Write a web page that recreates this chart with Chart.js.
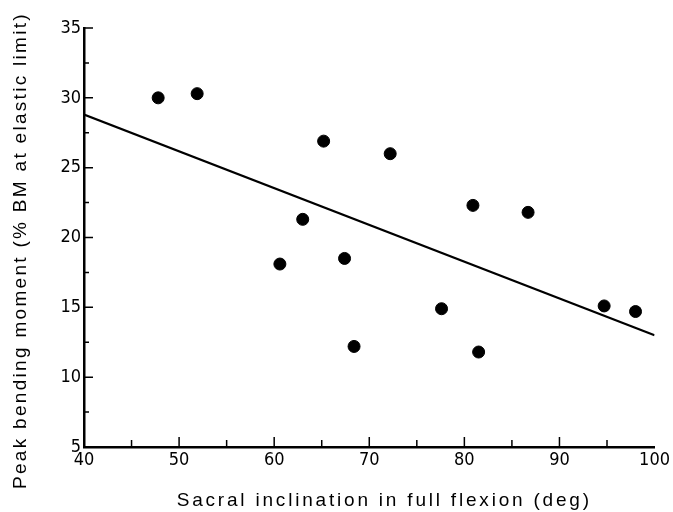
<!DOCTYPE html>
<html lang="en">
<head>
    <meta charset="UTF-8">
    <title>Peak bending moment vs sacral inclination</title>
    <script src="https://cdn.jsdelivr.net/npm/chart.js"></script>
    <style>
        body {
            margin: 0;
            padding: 0;
            background-color: #fff;
        }
        .wrap {
            width: 673px;
            height: 512px;
            position: relative;
        }
    </style>
</head>
<body>
    <div class="wrap">
        <canvas id="scatter-chart"></canvas>
    </div>

    <script>
        // sacral inclination (deg) and peak bending moment (% BM)
        var inclination = [47.8, 51.9, 65.2, 72.2, 63.0, 60.6, 67.4, 68.4, 77.6, 80.9, 81.5, 86.7, 94.7, 98.0];
        var moment = [30.0, 30.3, 26.9, 26.0, 21.3, 18.1, 18.5, 12.2, 14.9, 22.3, 11.8, 21.8, 15.1, 14.7];

        // regression line end points
        var fitX = [40, 100];
        var fitY = [28.8, 13.0];

        var xTicks = [40, 50, 60, 70, 80, 90, 100];
        var yTicks = [5, 10, 15, 20, 25, 30, 35];

        function toPoints(xs, ys) {
            return xs.map(function(x, i) { return {x: x, y: ys[i]}; });
        }

        // title spacing / nudge per axis (the printed titles are spaced out and a bit off-centre)
        var titleLook = {
            x: {spacing: '2.8px', dx: 15, dy: 0},
            y: {spacing: '2.3px', dx: 0, dy: 13}
        };

        var figureStyle = {
            id: 'figureStyle',
            beforeDraw: function(chart) {
                Object.keys(chart.scales).forEach(function(id) {
                    var s = chart.scales[id];
                    if (s._spaced || !titleLook[id]) return;
                    var look = titleLook[id];
                    var orig = s.drawTitle;
                    s.drawTitle = function() {
                        var c = this.ctx;
                        c.save();
                        c.translate(look.dx, look.dy);
                        c.letterSpacing = look.spacing;
                        orig.apply(this, arguments);
                        c.restore();
                    };
                    s._spaced = true;
                });
            },
            // small tick marks pointing into the plot
            afterDraw: function(chart) {
                var ctx = chart.ctx;
                var xs = chart.scales.x, ys = chart.scales.y;
                var area = chart.chartArea;
                ctx.save();
                ctx.strokeStyle = '#000';
                ctx.lineWidth = 1.5;
                ctx.beginPath();
                for (var v = 45; v < 100; v += 5) {
                    var px = xs.getPixelForValue(v);
                    var len = (v % 10 === 0) ? 10 : 7;
                    ctx.moveTo(px, area.bottom);
                    ctx.lineTo(px, area.bottom - len);
                }
                for (var w = 7.5; w <= 35; w += 2.5) {
                    var py = ys.getPixelForValue(w);
                    var l = (w % 5 === 0) ? 9 : 5;
                    ctx.moveTo(area.left, py);
                    ctx.lineTo(area.left + l, py);
                }
                ctx.stroke();
                ctx.restore();
            }
        };

        var ctx = document.getElementById('scatter-chart').getContext('2d');
        new Chart(ctx, {
            type: 'scatter',
            data: {
                datasets: [{
                    label: 'Subjects',
                    data: toPoints(inclination, moment),
                    backgroundColor: '#000',
                    borderColor: '#000',
                    pointRadius: 6,
                    pointHoverRadius: 6
                }, {
                    type: 'line',
                    label: 'Regression',
                    data: toPoints(fitX, fitY),
                    borderColor: '#000',
                    borderWidth: 2.2,
                    pointRadius: 0,
                    fill: false
                }]
            },
            options: {
                responsive: true,
                maintainAspectRatio: false,
                animation: false,
                layout: {
                    padding: {top: 28, right: 16, left: 0, bottom: 0}
                },
                plugins: {
                    legend: {display: false},
                    tooltip: {enabled: false}
                },
                scales: {
                    x: {
                        type: 'linear',
                        min: 40,
                        max: 100,
                        afterFit: function(scale) { scale.height = 65; },
                        afterBuildTicks: function(scale) {
                            scale.ticks = xTicks.map(function(v) { return {value: v}; });
                        },
                        ticks: {
                            color: '#000',
                            padding: 3,
                            maxRotation: 0,
                            font: {family: 'DejaVu Sans Condensed', size: 18}
                        },
                        grid: {display: true, drawOnChartArea: false, drawTicks: false},
                        border: {display: true, color: '#000', width: 2.5},
                        title: {
                            display: true,
                            text: 'Sacral inclination in full flexion (deg)',
                            color: '#000',
                            padding: 0,
                            font: {family: 'Liberation Sans', size: 19}
                        }
                    },
                    y: {
                        type: 'linear',
                        min: 5,
                        max: 35,
                        afterFit: function(scale) { scale.width = 84; },
                        afterBuildTicks: function(scale) {
                            scale.ticks = yTicks.map(function(v) { return {value: v}; });
                        },
                        ticks: {
                            color: '#000',
                            padding: 3,
                            font: {family: 'DejaVu Sans Condensed', size: 18}
                        },
                        grid: {display: true, drawOnChartArea: false, drawTicks: false},
                        border: {display: true, color: '#000', width: 2.5},
                        title: {
                            display: true,
                            text: 'Peak bending moment (% BM at elastic limit)',
                            color: '#000',
                            padding: {top: 9, bottom: 0},
                            font: {family: 'Liberation Sans', size: 19}
                        }
                    }
                }
            },
            plugins: [figureStyle]
        });
    </script>
</body>
</html>
